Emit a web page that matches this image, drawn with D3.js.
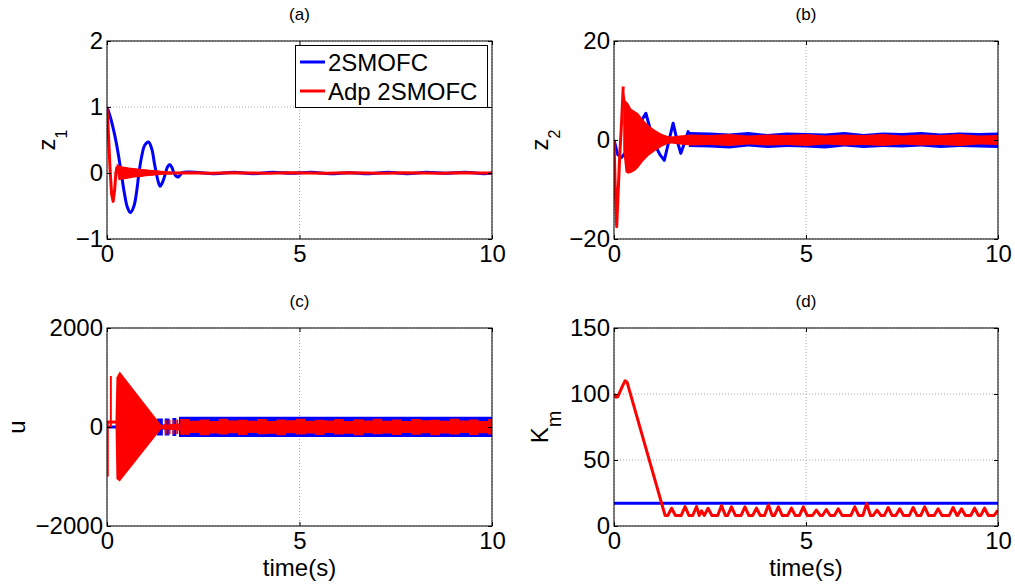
<!DOCTYPE html>
<html><head><meta charset="utf-8">
<script src="https://cdn.jsdelivr.net/npm/d3@7"></script>
<style>
html,body{margin:0;padding:0;background:#fff;}
svg{display:block;font-family:"Liberation Sans",Arial,sans-serif;}
</style></head>
<body>
<script>
// ---------------- DATA ----------------
const xTicks = [0, 5, 10];
const panelTitles = ["(a)", "(b)", "(c)", "(d)"];
const legendLabels = ["2SMOFC", "Adp 2SMOFC"];
const xLabel = "time(s)";

// (a) z1
const z1Ticks = [-1, 0, 1, 2];
const z1BlueT = [0,0.08,0.16,0.24,0.3,0.37,0.45,0.53,0.61,0.7,0.77,0.83,0.9,0.98,1.08,1.17,1.23,1.28,1.33,1.38,1.45,1.52,1.57,1.63,1.69,1.74,1.8,1.85,1.9,1.97,2.3,2.8,3.3,3.8,4.3,4.8,5.3,5.8,6.3,6.8,7.3,7.8,8.3,8.8,9.3,9.8,10];
const z1BlueV = [1,0.86,0.68,0.46,0.26,0,-0.3,-0.52,-0.6,-0.5,-0.28,0,0.25,0.42,0.47,0.35,0.15,0,-0.13,-0.2,-0.13,0,0.09,0.13,0.08,0,-0.05,-0.06,-0.03,0.01,0.01,-0.01,0.01,-0.01,0.01,-0.005,0.01,-0.01,0.005,-0.01,0.01,-0.01,0.01,-0.005,0.01,-0.01,0];
const z1RedT = [0,0.04,0.08,0.12,0.16,0.2,0.23,0.26];
const z1RedV = [1,0.55,0.05,-0.32,-0.43,-0.25,0,0.1];
const z1RedBandT  = [0.25,0.3,0.4,0.5,0.6,0.7,0.8,0.9,1.0,1.1,1.2,1.3,1.4,1.5,1.6,1.7];
const z1RedBandHi = [0.14,0.12,0.1,0.09,0.08,0.075,0.07,0.06,0.055,0.05,0.045,0.04,0.035,0.03,0.028,0.025];
const z1RedBandLo = [0.05,-0.11,-0.1,-0.09,-0.08,-0.07,-0.065,-0.06,-0.05,-0.045,-0.04,-0.035,-0.03,-0.028,-0.025,-0.025];
const z1RedTailT = [1.7,2.2,2.7,3.2,3.7,4.2,4.7,5.2,5.7,6.2,6.7,7.2,7.7,8.2,8.7,9.2,9.7,10];
const z1RedTailV = [0,0.005,-0.005,0.005,0,-0.005,0.005,0,-0.005,0.005,0,-0.005,0.005,0,-0.005,0.005,0,0];

// (b) z2
const z2Ticks = [-20, 0, 20];
const z2BlueT = [0,0.05,0.1,0.2,0.3,0.45,0.6,0.72,0.83,0.95,1.1,1.2,1.31,1.42,1.54,1.64,1.74,1.84,1.93,2.0];
const z2BlueV = [0,-1.5,-3,-3.5,-2.5,0,2.5,4,5.4,2,-1.5,-3,-4.1,-0.5,3.4,0,-2.7,-0.5,1.7,0.5];
const z2BlueBandT  = [1.95,2.5,3,3.5,4,4.5,5,5.5,6,6.5,7,7.5,8,8.5,9,9.5,10];
const z2BlueBandHi = [1.6,1.5,1.3,1.6,1.2,1.5,1.4,1.3,1.6,1.2,1.5,1.4,1.6,1.3,1.5,1.4,1.5];
const z2BlueBandLo = [-1.4,-1.5,-1.7,-1.3,-1.6,-1.4,-1.5,-1.7,-1.3,-1.6,-1.4,-1.5,-1.3,-1.6,-1.4,-1.5,-1.6];
const z2RedT = [0,0.03,0.07,0.1,0.15,0.2,0.24];
const z2RedV = [0,-9,-17.5,-12,-3,4,10.8];
const z2RedBandT  = [0.24,0.3,0.37,0.45,0.55,0.63,0.75,0.9,1.07,1.25,1.4,1.5,1.7,2,2.5,3,3.5,4,4.5,5,5.5,6,6.5,7,7.5,8,8.5,9,9.5,10];
const z2RedBandHi = [10.8,8,7.4,6.3,5.8,5.4,4.2,3,2,1.2,0.8,0.7,0.9,1.1,1.0,1.2,0.9,1.1,1.0,1.2,0.9,1.1,1.0,1.2,0.9,1.1,1.0,1.2,0.9,1.0];
const z2RedBandLo = [-2,-6.5,-6.8,-6.6,-6.2,-5.6,-4.4,-3.2,-2.2,-1.3,-0.8,-0.7,-0.9,-1.1,-1.0,-1.2,-0.9,-1.1,-1.0,-1.2,-0.9,-1.1,-1.0,-1.2,-0.9,-1.1,-1.0,-1.2,-0.9,-1.0];

// (c) u
const uTicks = [-2000, 0, 2000];
const uBlueT = [0, 0.3];
const uBlueV = [0, 0];
const uBlueBandT  = [1.3,1.45,1.5,1.62,1.7,1.8,1.87,10];
const uBlueBandHi = [170,30,170,30,180,30,205,205];
const uBlueBandLo = [-170,-30,-170,-30,-180,-30,-200,-200];
const uRedSpikeT0 = [0.005, 0.075];
const uRedSpikeT1 = [0.045, 0.125];
const uRedSpikeHi = [110, 1030];
const uRedSpikeLo = [-1000, 0];
const uRedT = [0, 0.24];
const uRedV = [100, 100];
const uRedTriT  = [0.22,0.245,0.33,1.41];
const uRedTriHi = [110,1000,1120,40];
const uRedTriLo = [90,-1050,-1100,-40];
const uRedMidT  = [1.41,1.46,1.5,1.55,1.6,1.65,1.7,1.75,1.8,1.85,1.9];
const uRedMidHi = [40,60,140,50,150,60,140,60,150,70,150];
const uRedMidLo = [-40,-60,-150,-50,-140,-60,-150,-60,-140,-70,-150];
const uRedBandT  = [1.9,2.15,2.4,2.65,2.9,3.15,3.4,3.65,3.9,4.15,4.4,4.65,4.9,5.15,5.4,5.65,5.9,6.15,6.4,6.65,6.9,7.15,7.4,7.65,7.9,8.15,8.4,8.65,8.9,9.15,9.4,9.65,9.9,10];
const uRedBandHi = [160,125,150,120,165,130,145,125,160,120,150,135,165,125,145,130,160,120,155,130,165,125,150,120,160,135,145,125,165,130,150,120,160,160];
const uRedBandLo = [-155,-120,-165,-130,-150,-125,-160,-120,-145,-135,-165,-125,-150,-130,-160,-120,-150,-135,-165,-125,-145,-130,-160,-120,-155,-125,-165,-130,-150,-120,-160,-125,-150,-150];

// (d) Km
const kmTicks = [0, 50, 100, 150];
const kmBlueT = [0, 10];
const kmBlueV = [17.2, 17.2];
const kmRedT = [0,0.05,0.1,0.16,0.22,0.29,0.34,1.33,
  1.40,1.50,1.60, 1.75,1.85,1.95, 2.05,2.15,2.22,2.28,2.35,2.45,2.55,
  2.70,2.80,2.90, 2.96,3.06,3.16, 3.31,3.41,3.51, 3.61,3.71,3.81, 3.92,4.02,4.12,
  4.18,4.28,4.38, 4.52,4.62,4.72, 4.83,4.93,5.03, 5.17,5.27,5.37, 5.43,5.53,5.63,
  5.74,5.84,5.94, 6.17,6.27,6.37, 6.48,6.58,6.68, 6.75,6.85,6.95, 7.04,7.14,7.24,
  7.34,7.44,7.54, 7.69,7.79,7.89, 7.99,8.09,8.19, 8.34,8.44,8.54, 8.73,8.83,8.93,
  8.95,9.05,9.15, 9.29,9.39,9.49, 9.55,9.65,9.75, 9.90,10];
const kmRedV = [100,97.5,98,102,106,110,109,8,
  8,13.4,8, 8,14.7,8, 8,14.7,8,11.5,8,13.4,8,
  8,15.5,8, 8,14.5,8, 8,14.5,8, 8,13.5,8, 8,16,8,
  8,14.5,8, 8,13.5,8, 8,14.5,8, 8,12,8, 8,12.5,8,
  8,13,8, 8,14.5,8, 8,17,8, 8,12,8, 8,14,8,
  8,13,8, 8,14,8, 8,14.5,8, 8,13,8, 8,14,8,
  8,13,8, 8,13.5,8, 8,13.5,8, 8,12];

// ---------------- DRAW ----------------
const W = 1015, H = 584;
const BLUE = "#0000ff", RED = "#ff0000";
const svg = d3.select("body").append("svg").attr("width", W).attr("height", H);
svg.append("rect").attr("width", W).attr("height", H).attr("fill", "#fff");

const zipPts = (T, V) => T.map((t, i) => [t, V[i]]);
const zipBand = (T, Hi, Lo) => T.map((t, i) => ({t, hi: Hi[i], lo: Lo[i]}));

function makePanel(cfg, idx) {
  const {x0, x1, y0, y1, yDomain, yTicks, ylab, ylabX, showX} = cfg;
  const x = d3.scaleLinear().domain([0, 10]).range([x0, x1]);
  const y = d3.scaleLinear().domain(yDomain).range([y1, y0]);
  const g = svg.append("g");

  g.selectAll(".gx").data(xTicks).join("line")
    .attr("x1", d => x(d)).attr("x2", d => x(d)).attr("y1", y0).attr("y2", y1)
    .attr("stroke", "#a8a8a8").attr("stroke-width", 1).attr("stroke-dasharray", "1,2");
  g.selectAll(".gy").data(yTicks).join("line")
    .attr("x1", x0).attr("x2", x1).attr("y1", d => y(d)).attr("y2", d => y(d))
    .attr("stroke", "#a8a8a8").attr("stroke-width", 1).attr("stroke-dasharray", "1,2");

  const clipId = "clip" + idx;
  svg.append("clipPath").attr("id", clipId).append("rect")
    .attr("x", x0).attr("y", y0).attr("width", x1 - x0).attr("height", y1 - y0);
  const dg = g.append("g").attr("clip-path", `url(#${clipId})`);

  const line = (curve) => d3.line().x(d => x(d[0])).y(d => y(d[1])).curve(curve || d3.curveLinear);
  const area = (curve) => d3.area().x(d => x(d.t)).y0(d => y(d.lo)).y1(d => y(d.hi)).curve(curve || d3.curveLinear);

  cfg.draw({dg, x, y, line, area});

  g.append("rect").attr("x", x0).attr("y", y0).attr("width", x1 - x0).attr("height", y1 - y0)
    .attr("fill", "none").attr("stroke", "#000").attr("stroke-width", 1);

  const fs = "24px";
  const ax = g.append("g").attr("transform", `translate(0,${y1})`)
    .call(d3.axisBottom(x).tickValues(xTicks).tickSizeInner(-4).tickSizeOuter(0).tickPadding(6).tickFormat(d3.format("d")));
  const ay = g.append("g").attr("transform", `translate(${x0},0)`)
    .call(d3.axisLeft(y).tickValues(yTicks).tickSizeInner(-4).tickSizeOuter(0).tickPadding(4).tickFormat(d3.format("d")));
  const axT = g.append("g").attr("transform", `translate(0,${y0})`)
    .call(d3.axisTop(x).tickValues(xTicks).tickSizeInner(-4).tickSizeOuter(0).tickFormat(""));
  const ayR = g.append("g").attr("transform", `translate(${x1},0)`)
    .call(d3.axisRight(y).tickValues(yTicks).tickSizeInner(-4).tickSizeOuter(0).tickFormat(""));
  [ax, ay, axT, ayR].forEach(a => {
    a.select(".domain").remove();
    a.selectAll("line").attr("stroke", "#000");
    a.selectAll("text").attr("font-size", fs).attr("fill", "#000")
      .attr("font-family", "'Liberation Sans',Arial,sans-serif");
  });

  g.append("text").attr("x", (x0 + x1) / 2).attr("y", y0 - 21)
    .attr("text-anchor", "middle").attr("font-size", "17px").text(panelTitles[idx]);

  const cy = (y0 + y1) / 2;
  const yl = g.append("text").attr("transform", `translate(${ylabX},${cy}) rotate(-90)`)
    .attr("text-anchor", "middle").attr("font-size", "24px");
  yl.append("tspan").text(ylab[0]);
  if (ylab[1]) yl.append("tspan").attr("font-size", ylab[2] + "px").attr("dy", ylab[3]).text(ylab[1]);

  if (showX) {
    g.append("text").attr("x", (x0 + x1) / 2).attr("y", y1 + 50)
      .attr("text-anchor", "middle").attr("font-size", "24px").text(xLabel);
  }
  return {x, y, g};
}

const LW = 3;
function strokeLine(dg, gen, pts, color) {
  dg.append("path").attr("d", gen(pts)).attr("fill", "none").attr("stroke", color)
    .attr("stroke-width", LW).attr("stroke-linejoin", "round");
}
function fillArea(dg, gen, band, color) {
  dg.append("path").attr("d", gen(band)).attr("fill", color).attr("stroke", "none");
}

// (a)
makePanel({
  x0: 107, x1: 492, y0: 41, y1: 239, yDomain: [-1, 2], yTicks: z1Ticks,
  ylab: ["z", "1", 16, 12], ylabX: 55, showX: false,
  draw: ({dg, line, area}) => {
    strokeLine(dg, line(d3.curveCatmullRom), zipPts(z1BlueT, z1BlueV), BLUE);
    strokeLine(dg, line(), zipPts(z1RedT, z1RedV), RED);
    fillArea(dg, area(), zipBand(z1RedBandT, z1RedBandHi, z1RedBandLo), RED);
    strokeLine(dg, line(), zipPts(z1RedTailT, z1RedTailV), RED);
  }
}, 0);

// legend in (a)
{
  const lg = svg.append("g");
  lg.append("rect").attr("x", 295.5).attr("y", 45.5).attr("width", 192).attr("height", 62)
    .attr("fill", "#fff").attr("stroke", "#000").attr("stroke-width", 1);
  const cols = [BLUE, RED];
  legendLabels.forEach((lab, i) => {
    const ly = 62 + i * 29;
    lg.append("line").attr("x1", 300).attr("x2", 325).attr("y1", ly).attr("y2", ly)
      .attr("stroke", cols[i]).attr("stroke-width", LW);
    lg.append("text").attr("x", 328).attr("y", ly + 9).attr("font-size", "24px").text(lab);
  });
}

// (b)
makePanel({
  x0: 614, x1: 998, y0: 41, y1: 239, yDomain: [-20, 20], yTicks: z2Ticks,
  ylab: ["z", "2", 16, 12], ylabX: 548, showX: false,
  draw: ({dg, line, area}) => {
    strokeLine(dg, line(), zipPts(z2BlueT, z2BlueV), BLUE);
    fillArea(dg, area(), zipBand(z2BlueBandT, z2BlueBandHi, z2BlueBandLo), BLUE);
    strokeLine(dg, line(), zipPts(z2RedT, z2RedV), RED);
    fillArea(dg, area(), zipBand(z2RedBandT, z2RedBandHi, z2RedBandLo), RED);
  }
}, 1);

// (c)
makePanel({
  x0: 107, x1: 492, y0: 328, y1: 526, yDomain: [-2000, 2000], yTicks: uTicks,
  ylab: ["u"], ylabX: 25, showX: true,
  draw: ({dg, x, y, line, area}) => {
    strokeLine(dg, line(), zipPts(uBlueT, uBlueV), BLUE);
    fillArea(dg, area(d3.curveStepAfter), zipBand(uBlueBandT, uBlueBandHi, uBlueBandLo), BLUE);
    dg.selectAll(".spk").data(uRedSpikeT0).join("rect")
      .attr("x", d => x(d)).attr("width", (d, i) => x(uRedSpikeT1[i]) - x(d))
      .attr("y", (d, i) => y(uRedSpikeHi[i])).attr("height", (d, i) => y(uRedSpikeLo[i]) - y(uRedSpikeHi[i]))
      .attr("fill", RED);
    strokeLine(dg, line(), zipPts(uRedT, uRedV), RED);
    fillArea(dg, area(), zipBand(uRedTriT, uRedTriHi, uRedTriLo), RED);
    fillArea(dg, area(d3.curveStepAfter), zipBand(uRedMidT, uRedMidHi, uRedMidLo), RED);
    fillArea(dg, area(d3.curveStepAfter), zipBand(uRedBandT, uRedBandHi, uRedBandLo), RED);
  }
}, 2);

// (d)
makePanel({
  x0: 614, x1: 998, y0: 328, y1: 526, yDomain: [0, 150], yTicks: kmTicks,
  ylab: ["K", "m", 20, 13], ylabX: 548, showX: true,
  draw: ({dg, line}) => {
    strokeLine(dg, line(), zipPts(kmBlueT, kmBlueV), BLUE);
    strokeLine(dg, line(), zipPts(kmRedT, kmRedV), RED);
  }
}, 3);
</script>
</body></html>
